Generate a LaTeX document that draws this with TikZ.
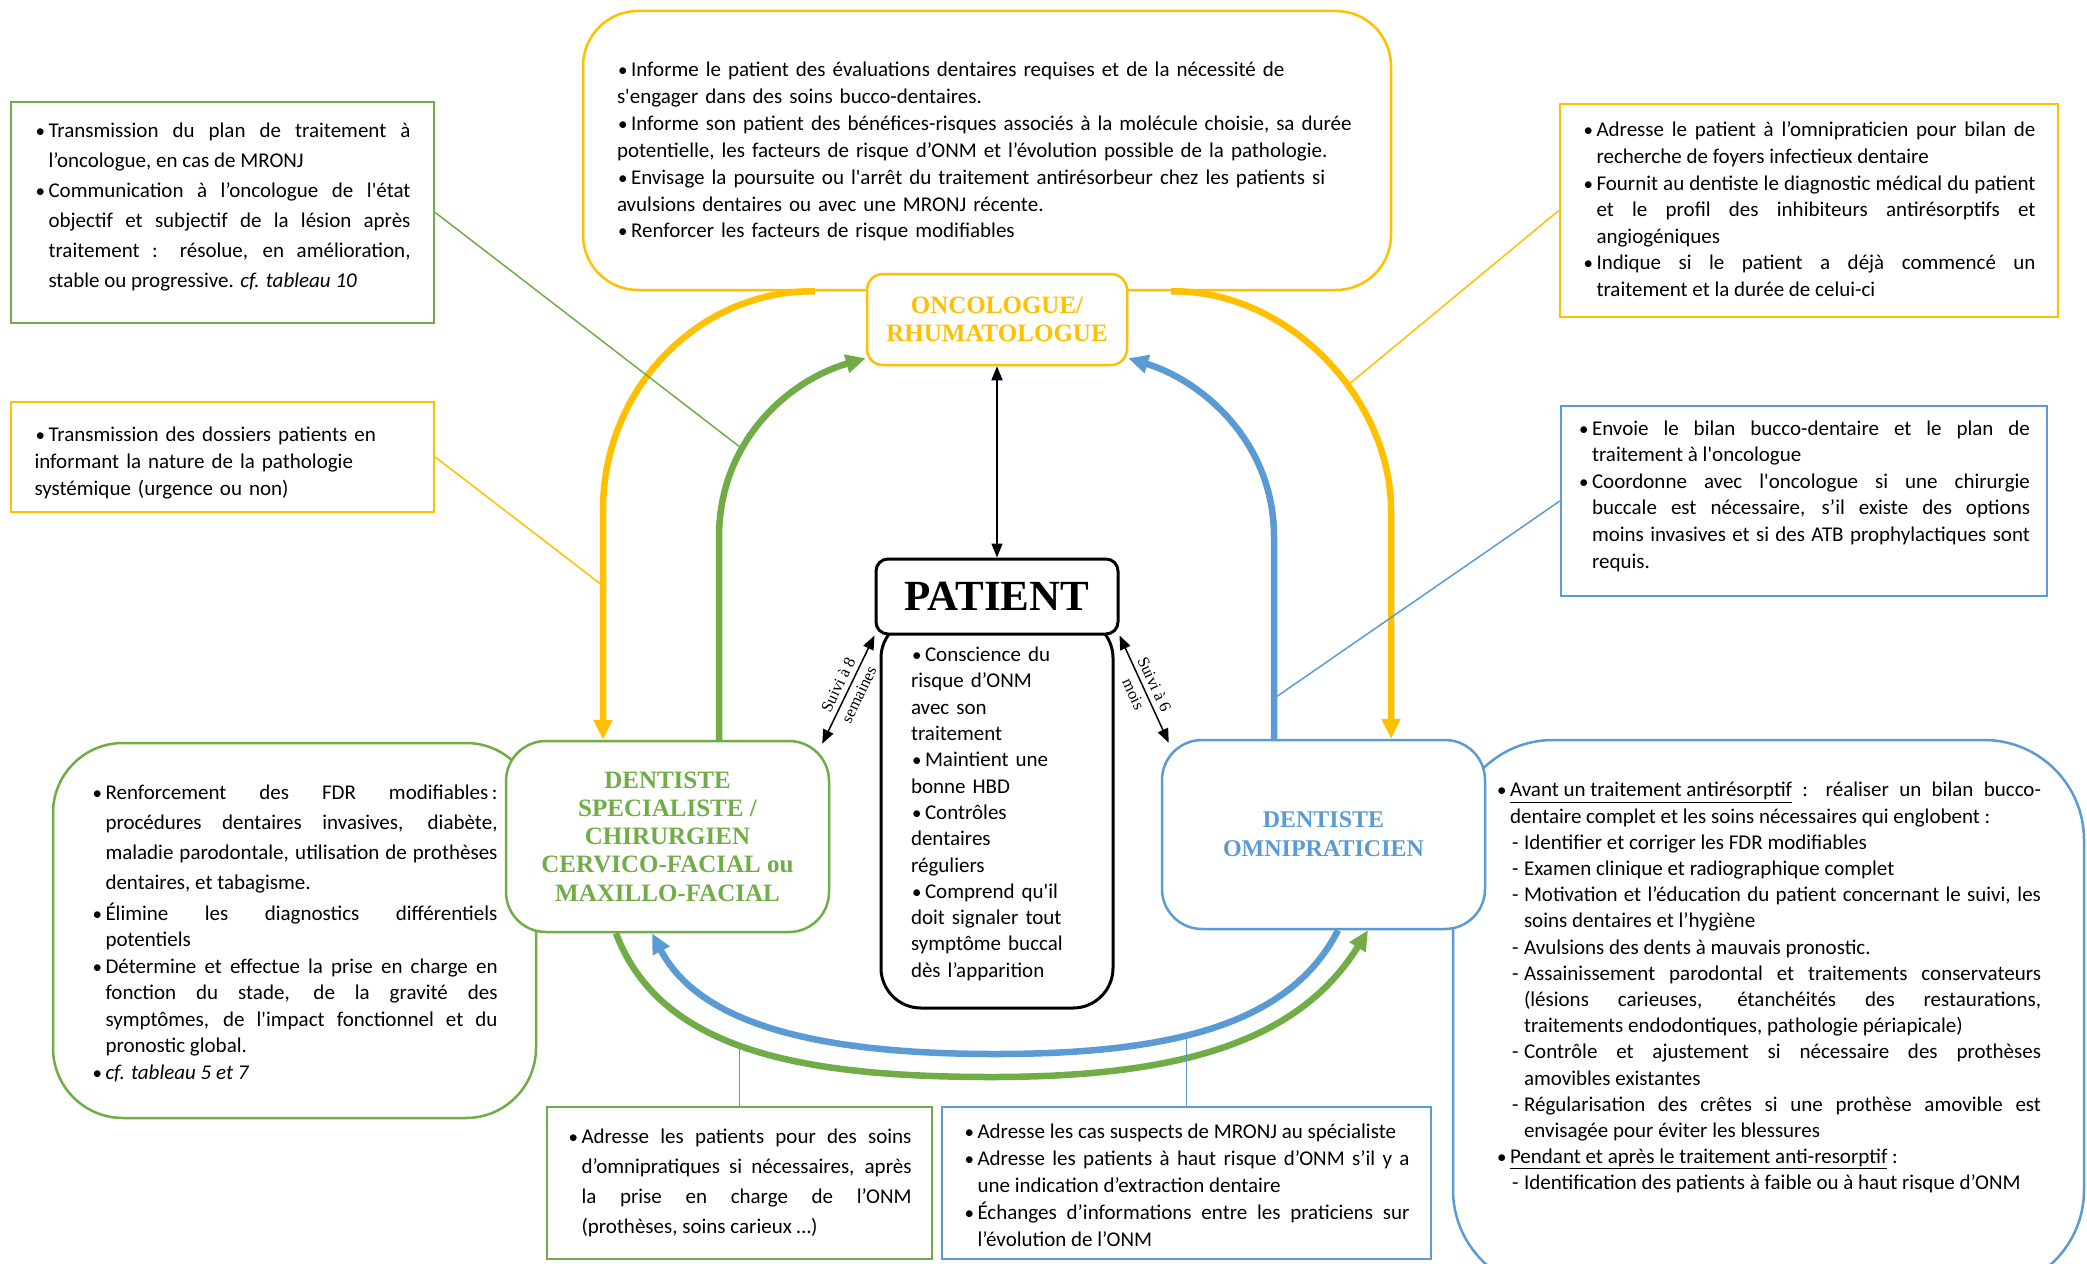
\documentclass[tikz,border=0pt]{standalone}
\usepackage{fontspec}
\setmainfont{Carlito}
\newfontfamily\titlefont{Liberation Serif}
\usepackage{tikz}
\usetikzlibrary{arrows.meta, positioning}

\definecolor{oncogold}{HTML}{FFC000}
\definecolor{specgreen}{HTML}{70AD47}
\definecolor{omniblue}{HTML}{5B9BD5}

\newcommand{\itm}{\par\noindent\hangindent=14pt\hangafter=1\makebox[14pt][l]{\hspace{1pt}{\fontsize{19}{19}\selectfont\textbullet}}\ignorespaces}
\newcommand{\dsh}{\par\noindent\hangindent=28pt\hangafter=1\hspace*{16pt}\makebox[12pt][l]{-}\ignorespaces}
\newcommand{\sq}{\textquotesingle}
% pad below a text block (a bare vspace is dropped at the end of the box)
\newcommand{\padbelow}[1]{\par\vspace{#1}\nointerlineskip\hbox{}}
\tolerance=10000 \hbadness=10000 \hyphenpenalty=10000

\tikzset{>={Triangle[length=14pt,width=11pt]},
    note/.style={draw, fill=white, line width=2.5pt, inner sep=0pt,
        font=\fontsize{21}{26.6}\selectfont},
    greennote/.style={note, draw=specgreen},
    goldnote/.style={note, draw=oncogold},
    bluenote/.style={note, draw=omniblue},
    actor/.style={draw, fill=white, line width=2.5pt, inner sep=0pt, align=center,
        font=\titlefont\bfseries\fontsize{25}{28.3}\selectfont},
    thinlink/.style={line width=1.5pt},
    bigarc/.style={line width=6.5pt, -{Triangle[length=20pt,width=18pt]}},
    suivi/.style={midway, sloped, align=center, font=\titlefont\fontsize{16.5}{23}\selectfont}}

\begin{document}
\begin{tikzpicture}[x=1pt,y=-1pt]
\path[use as bounding box, fill=white] (0,0) rectangle (2087,1263);

% notes round the oncologist
\node[goldnote, rounded corners=55pt, minimum width=808pt, minimum height=279pt,
      text width=740pt, align=left, font=\fontsize{21}{26.9}\selectfont] (topbox) at (987,150.5) {%
\itm Informe le patient des évaluations dentaires requises et de la nécessité de\\ s\sq engager dans des soins bucco-dentaires.
\itm Informe son patient des bénéfices-risques associés à la molécule choisie, sa durée\\ potentielle, les facteurs de risque d’ONM et l’évolution possible de la pathologie.
\itm Envisage la poursuite ou l\sq arrêt du traitement antirésorbeur chez les patients si\\ avulsions dentaires ou avec une MRONJ récente.
\itm Renforcer les facteurs de risque modifiables\padbelow{10pt}};
\node[greennote, minimum width=423pt, minimum height=221pt, text width=376pt, align=justify,
      font=\fontsize{21}{30}\selectfont] (tl) at (222.5,212.5) {%
\itm Transmission du plan de traitement à \linebreak l’oncologue, en cas de MRONJ
\itm Communication à l’oncologue de l\sq état \linebreak objectif et subjectif de la lésion après \linebreak traitement : résolue, en amélioration, \linebreak stable ou progressive. \textit{cf. tableau 10}\padbelow{26pt}};
\node[goldnote, minimum width=498pt, minimum height=213pt, text width=453pt, align=justify] (tr) at (1809,210.5) {%
\itm Adresse le patient à l’omnipraticien pour bilan de \linebreak recherche de foyers infectieux dentaire
\itm Fournit au dentiste le diagnostic médical du patient \linebreak et le profil des inhibiteurs antirésorptifs et \linebreak angiogéniques
\itm Indique si le patient a déjà commencé un \linebreak traitement et la durée de celui-ci\padbelow{14pt}};
\node[goldnote, minimum width=423pt, minimum height=110pt, text width=376pt, align=left] (ml) at (222.5,457) {%
\itm Transmission des dossiers patients en\\ informant la nature de la pathologie\\ systémique (urgence ou non)};
\node[bluenote, minimum width=486pt, minimum height=190pt, text width=452pt, align=justify] (mr) at (1804,501) {%
\itm Envoie le bilan bucco-dentaire et le plan de \linebreak traitement à l\sq oncologue
\itm Coordonne avec l\sq oncologue si une chirurgie \linebreak buccale est nécessaire, s’il existe des options \linebreak moins invasives et si des ATB prophylactiques sont \linebreak requis.\padbelow{22pt}};

% the four actors and their lists
\node[greennote, rounded corners=70pt, minimum width=483pt, minimum height=375pt, text width=406pt,
      align=justify, font=\fontsize{21}{30}\selectfont] (llist) at (294.5,930.5) {%
\itm Renforcement des FDR modifiables\,: \linebreak procédures dentaires invasives, diabète, \linebreak maladie parodontale, utilisation de prothèses \linebreak dentaires, et tabagisme.\par\fontsize{21}{26.5}\selectfont\vspace{4pt}
\itm Élimine les diagnostics différentiels \linebreak potentiels
\itm Détermine et effectue la prise en charge en \linebreak fonction du stade, de la gravité des \linebreak symptômes, de l\sq impact fonctionnel et du \linebreak pronostic global.
\itm \textit{cf. tableau 5 et 7}\padbelow{10pt}};
\node[actor, draw=specgreen, text=specgreen, rounded corners=40pt, minimum width=323pt,
      minimum height=191pt] (spec) at (667.5,836.5) {DENTISTE\\SPECIALISTE /\\CHIRURGIEN\\CERVICO-FACIAL ou\\MAXILLO-FACIAL};
\node[bluenote, rounded corners=100pt, minimum width=631pt, minimum height=550pt, text width=545pt,
      align=justify, font=\fontsize{21}{26.2}\selectfont] (rlist) at (1768.5,1015) {%
\itm \underline{Avant un traitement antirésorptif} : réaliser un bilan bucco-\linebreak dentaire complet et les soins nécessaires qui englobent :
\dsh Identifier et corriger les FDR modifiables
\dsh Examen clinique et radiographique complet
\dsh Motivation et l’éducation du patient concernant le suivi, les \linebreak soins dentaires et l’hygiène
\dsh Avulsions des dents à mauvais pronostic.
\dsh Assainissement parodontal et traitements conservateurs \linebreak (lésions carieuses, étanchéités des restaurations, \linebreak traitements endodontiques, pathologie périapicale)
\dsh Contrôle et ajustement si nécessaire des prothèses \linebreak amovibles existantes
\dsh Régularisation des crêtes si une prothèse amovible est \linebreak envisagée pour éviter les blessures
\itm \underline{Pendant et après le traitement anti-resorptif} :
\dsh Identification des patients à faible ou à haut risque d’ONM\padbelow{66pt}};
\node[actor, draw=omniblue, text=omniblue, rounded corners=40pt, minimum width=323pt, minimum height=189pt,
      font=\titlefont\bfseries\fontsize{24}{29}\selectfont] (omni) at (1323.5,834.5) {DENTISTE\\OMNIPRATICIEN};
\node[note, draw=black, line width=3pt, rounded corners=40pt, minimum width=232pt, minimum height=390pt,
      text width=172pt, align=left, font=\fontsize{21}{26.3}\selectfont] (plist) at (997,813) {%
\itm Conscience du\\ risque d’ONM\\ avec son\\ traitement
\itm Maintient une\\ bonne HBD
\itm Contrôles\\ dentaires\\ réguliers
\itm Comprend qu\sq il\\ doit signaler tout\\ symptôme buccal\\ dès l’apparition\padbelow{10pt}};
\node[actor, draw=black, line width=3pt, rounded corners=12pt, minimum width=242pt, minimum height=75pt,
      font=\titlefont\bfseries\fontsize{43}{46}\selectfont] (patient) at (997,596.5) {PATIENT};
\node[actor, draw=oncogold, text=oncogold, rounded corners=16pt, minimum width=260pt,
      minimum height=91pt, font=\titlefont\bfseries\fontsize{25}{28}\selectfont] (onco) at (997,319.5) {ONCOLOGUE/\\RHUMATOLOGUE};

% notes under the dentists
\node[greennote, minimum width=385pt, minimum height=152pt, text width=344pt, align=justify,
      font=\fontsize{21}{30}\selectfont] (bgreen) at (739.5,1183) {%
\itm Adresse les patients pour des soins \linebreak d’omnipratiques si nécessaires, après \linebreak la prise en charge de l’ONM \linebreak (prothèses, soins carieux …)\padbelow{16pt}};
\node[bluenote, minimum width=489pt, minimum height=152pt, text width=446pt, align=justify,
      font=\fontsize{21}{27}\selectfont] (bblue) at (1186.5,1183) {%
\itm Adresse les cas suspects de MRONJ au spécialiste
\itm Adresse les patients à haut risque d’ONM s’il y a \linebreak une indication d’extraction dentaire
\itm Échanges d’informations entre les praticiens sur \linebreak l’évolution de l’ONM\padbelow{8pt}};

% big arcs
\draw[bigarc, oncogold] ([xshift=-172pt]topbox.south) .. controls (698,290) and (603,389) .. (603,510)
    -- coordinate[pos=0.33] (goldhookL) ([xshift=-64.5pt]spec.north);
\draw[bigarc, oncogold] ([xshift=184pt]topbox.south) .. controls (1290,290) and (1391,400) ..
    coordinate[pos=0.6] (goldhookR) (1391,510) -- ([xshift=67.5pt]omni.north);
\draw[bigarc, specgreen] ([xshift=51.5pt]spec.north) -- (719,537) .. controls (719,440) and (790,380) ..
    coordinate[pos=0.35] (greenhook) ([yshift=8pt]onco.south west);
\draw[bigarc, omniblue] ([xshift=-49.5pt]omni.north) -- coordinate[pos=0.2] (bluehook) (1274,537)
    .. controls (1274,440) and (1200,380) .. ([yshift=8pt]onco.south east);
\draw[bigarc, omniblue] ([xshift=14.5pt]omni.south) .. controls (1290,1025) and (1170,1054) ..
    coordinate[pos=0.57] (bluelow) (995,1054) .. controls (820,1054) and (700,1025) .. ([xshift=-15.5pt]spec.south);
\draw[bigarc, specgreen] ([xshift=-51.5pt]spec.south) .. controls (660,1050) and (800,1077) ..
    coordinate[pos=0.48] (greenlow) (992,1077) .. controls (1184,1077) and (1300,1040) .. ([xshift=44.5pt]omni.south);

% thin links
\draw[thinlink, specgreen] (tl.east) -- (greenhook);
\draw[thinlink, oncogold] (ml.east) -- (goldhookL);
\draw[thinlink, oncogold] (tr.west) -- (goldhookR);
\draw[thinlink, omniblue] (mr.west) -- (bluehook);
\draw[thinlink, specgreen] (bgreen.north) -- (bgreen.north |- greenlow);
\draw[thinlink, omniblue] (bblue.north) -- (bblue.north |- bluelow);
\draw[thinlink, <->] (onco.south) -- (patient.north);
\draw[thinlink, <->] (patient.south west) -- node[suivi] {Suivi à 8\\semaines} ([xshift=-8pt,yshift=-4pt]spec.north east);
\draw[thinlink, <->] (patient.south east) -- node[suivi] {Suivi à 6\\mois} ([xshift=8pt,yshift=-4pt]omni.north west);
\end{tikzpicture}
\end{document}
